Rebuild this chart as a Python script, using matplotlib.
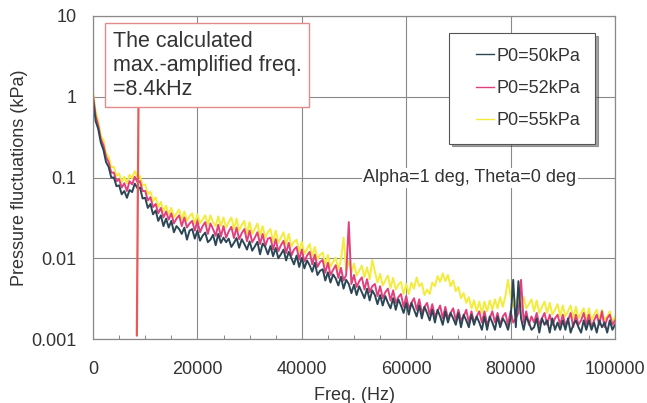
import numpy as np
import matplotlib
matplotlib.use('Agg')
import matplotlib.pyplot as plt
from matplotlib.ticker import MultipleLocator, FixedLocator
from matplotlib.legend_handler import HandlerLine2D

# === DATA (0.5 kHz steps) ===
freq_hz = np.arange(0, 100001, 500)

p50 = [0.95, 0.50, 0.40, 0.27, 0.22, 0.155, 0.135, 0.10, 0.10, 0.078,
       0.080, 0.062, 0.068, 0.056, 0.070, 0.066, 0.084, 0.074, 0.075, 0.055,
       0.056, 0.042, 0.047, 0.035, 0.039, 0.029, 0.034, 0.025, 0.031, 0.024,
       0.029, 0.021, 0.025, 0.023, 0.020, 0.024, 0.017, 0.022, 0.023, 0.0175,
       0.022, 0.0165, 0.019, 0.0208, 0.0158, 0.017, 0.0195, 0.0145, 0.020, 0.0155,
       0.018, 0.0158, 0.0175, 0.0138, 0.0155, 0.0178, 0.0135, 0.0172, 0.0150, 0.0128,
       0.0162, 0.0124, 0.0140, 0.0160, 0.0112, 0.0152, 0.0138, 0.0112, 0.0142, 0.0106,
       0.0134, 0.0100, 0.0112, 0.0128, 0.0094, 0.0120, 0.0100, 0.0084, 0.0108, 0.0078,
       0.0101, 0.0075, 0.0094, 0.0082, 0.0068, 0.0088, 0.0062, 0.0070, 0.0073, 0.0053,
       0.0067, 0.0050, 0.0063, 0.0056, 0.0046, 0.0059, 0.0042, 0.0054, 0.0048, 0.0037,
       0.0047, 0.0035, 0.0045, 0.0038, 0.0032, 0.0042, 0.0030, 0.0040, 0.0035, 0.0027,
       0.0035, 0.0026, 0.0034, 0.0028, 0.0024, 0.0032, 0.0023, 0.0031, 0.0026, 0.0021,
       0.0028, 0.0020, 0.0028, 0.0023, 0.0019, 0.0026, 0.0018, 0.0025, 0.0021, 0.0017,
       0.0023, 0.0016, 0.0023, 0.0019, 0.0015, 0.0022, 0.0016, 0.0021, 0.0018, 0.0015,
       0.0021, 0.0014, 0.0020, 0.0017, 0.0014, 0.0020, 0.0015, 0.0019, 0.0016, 0.0013,
       0.0019, 0.0013, 0.0019, 0.0016, 0.0013, 0.0019, 0.0014, 0.0018, 0.0016, 0.0013,
       0.0018, 0.0054, 0.0014, 0.0052, 0.0018, 0.0013, 0.0019, 0.0016, 0.0013, 0.0014,
       0.0018, 0.0012, 0.0018, 0.0015, 0.0017, 0.0012, 0.0018, 0.0013, 0.0016, 0.0013,
       0.0017, 0.0013, 0.0018, 0.0012, 0.0015, 0.0017, 0.0014, 0.0012, 0.0017, 0.0013,
       0.0017, 0.0013, 0.0016, 0.0012, 0.0017, 0.0014, 0.0016, 0.0012, 0.0017, 0.0013,
       0.0015]

p52 = [1.05, 0.58, 0.44, 0.30, 0.25, 0.18, 0.155, 0.115, 0.115, 0.090,
       0.095, 0.075, 0.085, 0.068, 0.090, 0.082, 0.102, 0.088, 0.090, 0.068,
       0.068, 0.052, 0.057, 0.043, 0.047, 0.036, 0.042, 0.032, 0.038, 0.030,
       0.036, 0.027, 0.031, 0.034, 0.025, 0.032, 0.024, 0.027, 0.029, 0.022,
       0.029, 0.021, 0.025, 0.028, 0.020, 0.027, 0.023, 0.019, 0.026, 0.0185,
       0.025, 0.018, 0.0215, 0.0245, 0.0178, 0.024, 0.0172, 0.0205, 0.023, 0.0162,
       0.022, 0.0158, 0.018, 0.021, 0.015, 0.020, 0.0142, 0.0175, 0.018, 0.0128,
       0.0172, 0.0122, 0.0145, 0.0164, 0.0116, 0.0155, 0.0108, 0.0128, 0.0138, 0.0096,
       0.0128, 0.0091, 0.0108, 0.0120, 0.0084, 0.0111, 0.0078, 0.0090, 0.0095, 0.0066,
       0.0088, 0.0062, 0.0072, 0.0082, 0.0057, 0.0076, 0.0053, 0.0062, 0.028, 0.0048,
       0.0062, 0.0044, 0.0052, 0.0058, 0.0041, 0.0055, 0.0038, 0.0045, 0.0048, 0.0034,
       0.0045, 0.0032, 0.0038, 0.0042, 0.0030, 0.0040, 0.0028, 0.0033, 0.0036, 0.0025,
       0.0034, 0.0024, 0.0028, 0.0032, 0.0023, 0.0031, 0.0021, 0.0025, 0.0028, 0.0020,
       0.0027, 0.0019, 0.0022, 0.0026, 0.0018, 0.0025, 0.0018, 0.0021, 0.0024, 0.0017,
       0.0023, 0.0017, 0.0019, 0.0023, 0.0016, 0.0022, 0.0016, 0.0019, 0.0022, 0.0016,
       0.0022, 0.0015, 0.0018, 0.0022, 0.0016, 0.0021, 0.0015, 0.0019, 0.0021, 0.0015,
       0.0022, 0.0016, 0.0018, 0.0021, 0.0054, 0.0016, 0.0022, 0.0015, 0.0019, 0.0016,
       0.0021, 0.0015, 0.0018, 0.0021, 0.0015, 0.0020, 0.0015, 0.0018, 0.0020, 0.0015,
       0.0020, 0.0015, 0.0017, 0.0021, 0.0014, 0.0020, 0.0015, 0.0017, 0.0021, 0.0015,
       0.0020, 0.0014, 0.0017, 0.0020, 0.0015, 0.0022, 0.0014, 0.0018, 0.0020, 0.0015,
       0.0017]

p55 = [1.15, 0.66, 0.50, 0.33, 0.29, 0.20, 0.18, 0.135, 0.135, 0.105,
       0.112, 0.088, 0.102, 0.085, 0.108, 0.098, 0.120, 0.100, 0.104, 0.080,
       0.082, 0.062, 0.067, 0.051, 0.057, 0.043, 0.050, 0.038, 0.045, 0.035,
       0.042, 0.032, 0.036, 0.040, 0.030, 0.038, 0.029, 0.033, 0.036, 0.027,
       0.035, 0.027, 0.030, 0.034, 0.026, 0.034, 0.028, 0.025, 0.033, 0.025,
       0.032, 0.024, 0.028, 0.032, 0.023, 0.031, 0.022, 0.026, 0.029, 0.020,
       0.028, 0.020, 0.023, 0.027, 0.019, 0.025, 0.018, 0.021, 0.023, 0.016,
       0.022, 0.0155, 0.018, 0.021, 0.0148, 0.020, 0.014, 0.016, 0.017, 0.012,
       0.016, 0.0113, 0.013, 0.015, 0.0105, 0.0138, 0.0097, 0.011, 0.0118, 0.0083,
       0.0110, 0.0078, 0.0090, 0.0102, 0.0072, 0.0096, 0.0180, 0.0070, 0.0092, 0.0066,
       0.0086, 0.0061, 0.0070, 0.0081, 0.0058, 0.0077, 0.0055, 0.0095, 0.0068, 0.0050,
       0.0064, 0.0046, 0.0053, 0.0061, 0.0043, 0.0057, 0.0041, 0.0047, 0.0051, 0.0036,
       0.0048, 0.0036, 0.0050, 0.0042, 0.0058, 0.0045, 0.0049, 0.0035, 0.0041, 0.0036,
       0.0050, 0.0045, 0.0060, 0.0051, 0.0065, 0.0052, 0.0062, 0.0045, 0.0053, 0.0039,
       0.0044, 0.0032, 0.0037, 0.0028, 0.0033, 0.0024, 0.0030, 0.0022, 0.0029, 0.0021,
       0.0029, 0.0022, 0.0030, 0.0023, 0.0031, 0.0024, 0.0033, 0.0025, 0.0034, 0.0054,
       0.0034, 0.0025, 0.0029, 0.0034, 0.0025, 0.0033, 0.0024, 0.0027, 0.0031, 0.0022,
       0.0030, 0.0021, 0.0025, 0.0029, 0.0021, 0.0028, 0.0020, 0.0023, 0.0027, 0.0019,
       0.0026, 0.0019, 0.0022, 0.0026, 0.0018, 0.0025, 0.0018, 0.0021, 0.0024, 0.0017,
       0.0024, 0.0017, 0.0020, 0.0023, 0.0017, 0.0023, 0.0017, 0.0019, 0.0022, 0.0016,
       0.0019]

calc_freq = 8400  # Hz, calculated max.-amplified freq.
line_floor = 0.0011

series = [('P0=50kPa', p50, '#2c4656'),
          ('P0=52kPa', p52, '#e2407c'),
          ('P0=55kPa', p55, '#f3ec3c')]


class ShortLine(HandlerLine2D):
    # legend handle line only on the right part of the handle box
    def create_artists(self, legend, orig_handle, xdescent, ydescent,
                       width, height, fontsize, trans):
        frac = 0.6
        return super().create_artists(legend, orig_handle,
                                      xdescent - width * (1 - frac), ydescent,
                                      width * frac, height, fontsize, trans)


plt.rcParams['font.family'] = ['Liberation Sans', 'DejaVu Sans']
txt = '#333333'

fig = plt.figure(figsize=(6.47, 4.03), dpi=100)
ax = fig.add_axes([93/647, 64/403, 522/647, 323/403])

# draw yellow first so the dark trace sits on top
for label, vals, col in reversed(series):
    ax.plot(freq_hz, vals, color=col, linewidth=1.4, label=label)

ax.set_yscale('log')
ax.set_xlim(0, 100000)
ax.set_ylim(0.001, 10)

ax.xaxis.set_major_locator(MultipleLocator(20000))
ax.xaxis.set_minor_locator(MultipleLocator(5000))
ax.yaxis.set_major_locator(FixedLocator([0.001, 0.01, 0.1, 1, 10]))
ax.yaxis.set_minor_locator(FixedLocator([]))
ax.set_yticklabels(['0.001', '0.01', '0.1', '1', '10'])
ax.tick_params(axis='both', which='major', length=0, labelsize=13, colors=txt)
ax.tick_params(axis='x', which='major', pad=16)
ax.tick_params(axis='y', which='major', pad=12)
ax.tick_params(axis='x', which='minor', direction='in', length=3, color='#777777')
ax.grid(True, which='major', color='#8a8a8a', linewidth=0.8)
for s in ax.spines.values():
    s.set_color('#8a8a8a')
    s.set_linewidth(0.9)

ax.set_xlabel('Freq. (Hz)', fontsize=13, color=txt, labelpad=6)
ax.set_ylabel('Pressure fluctuations (kPa)', fontsize=13, color=txt, labelpad=2)

# annotation box with line down to the calculated frequency
ax.annotate('The calculated\nmax.-amplified freq.\n=8.4kHz',
            xy=(calc_freq, line_floor), xycoords='data',
            xytext=(0.038, 0.955), textcoords='axes fraction',
            ha='left', va='top', fontsize=15.5, color=txt, linespacing=1.2,
            bbox=dict(boxstyle='square,pad=0.35', fc='white', ec='#e58a8a', lw=1.0),
            arrowprops=dict(arrowstyle='-', color='#e85a5a', lw=1.6,
                            relpos=(0.136, 0.0), shrinkA=0, shrinkB=0))

ax.text(0.722, 0.4985, 'Alpha=1 deg, Theta=0 deg', transform=ax.transAxes,
        ha='center', va='center', fontsize=13, color=txt,
        bbox=dict(boxstyle='square,pad=0.1', fc='white', ec='none'))

handles, labels = ax.get_legend_handles_labels()
leg = ax.legend(handles[::-1], labels[::-1], loc='upper right',
                bbox_to_anchor=(0.962, 0.947), fontsize=13, frameon=True,
                fancybox=False, shadow=True, borderpad=0.8, labelspacing=0.85,
                handlelength=1.7, handletextpad=0.15, borderaxespad=0,
                handler_map={h: ShortLine() for h in handles})
leg.get_frame().set_edgecolor('#555555')
leg.get_frame().set_linewidth(0.8)
for h in leg.get_lines():
    h.set_linewidth(1.0)
for t in leg.get_texts():
    t.set_color(txt)

fig.savefig('out.png', dpi=100)
